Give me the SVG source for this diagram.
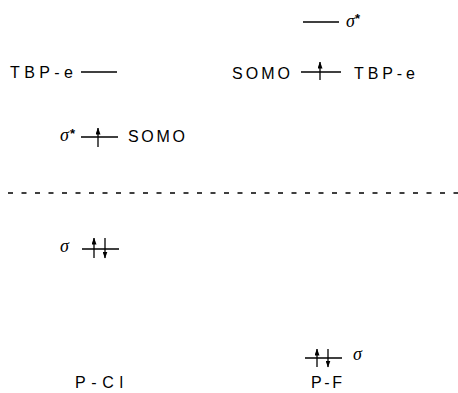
<svg xmlns="http://www.w3.org/2000/svg" width="458" height="393" viewBox="0 0 458 393">
<defs>
<marker id="ah" viewBox="0 0 7 5" refX="6.5" refY="2.5" markerWidth="7" markerHeight="5" markerUnits="userSpaceOnUse" orient="auto">
<path d="M0,0 L7,2.5 L0,5 Z" fill="#000"/>
</marker>
<style>
.lab{font-family:"Liberation Sans",Arial,sans-serif;font-size:16px;fill:#000}
.sym{font-family:"Liberation Serif","Times New Roman",serif;font-style:italic;font-size:18px;fill:#000}
.sup{font-family:"Liberation Sans",Arial,sans-serif;font-size:13px;font-weight:bold;fill:#000}
.lvl{stroke:#000;stroke-width:1.7;fill:none}
.sp{stroke:#000;stroke-width:1.3;fill:none}
.dot{stroke:#000;stroke-width:1.7;stroke-dasharray:5 8.5;fill:none}
</style>
</defs>
<g id="pcl-tbpe">
<text class="lab" x="10" y="78" textLength="63" lengthAdjust="spacing">TBP-e</text>
<line class="lvl" x1="81" y1="72" x2="117" y2="72"/>
</g>
<g id="pcl-somo">
<text class="sym" x="60" y="141">σ</text><text class="sup" x="70" y="138">*</text>
<line class="lvl" x1="81" y1="137" x2="118" y2="137"/>
<line class="sp" x1="98" y1="147" x2="98" y2="128" marker-end="url(#ah)"/>
<text class="lab" x="128" y="142" textLength="57" lengthAdjust="spacing">SOMO</text>
</g>
<g id="pf-sigmastar">
<line class="lvl" x1="303" y1="22" x2="339" y2="22"/>
<text class="sym" x="346" y="27">σ</text><text class="sup" x="355" y="23">*</text>
</g>
<g id="pf-somo">
<text class="lab" x="232" y="79" textLength="58" lengthAdjust="spacing">SOMO</text>
<line class="lvl" x1="301" y1="72" x2="341" y2="72"/>
<line class="sp" x1="320" y1="80" x2="320" y2="62" marker-end="url(#ah)"/>
<text class="lab" x="354" y="79" textLength="61" lengthAdjust="spacing">TBP-e</text>
</g>
<g id="connectors">
<line class="dot" x1="8" y1="193" x2="458" y2="193"/>
</g>
<g id="pcl-sigma">
<text class="sym" x="60" y="252">σ</text>
<line class="lvl" x1="82" y1="249" x2="119" y2="249"/>
<line class="sp" x1="94" y1="258" x2="94" y2="238" marker-end="url(#ah)"/>
<line class="sp" x1="105" y1="238" x2="105" y2="258" marker-end="url(#ah)"/>
</g>
<g id="pf-sigma">
<line class="lvl" x1="305" y1="358" x2="342" y2="358"/>
<line class="sp" x1="317" y1="367" x2="317" y2="349" marker-end="url(#ah)"/>
<line class="sp" x1="328" y1="349" x2="328" y2="367" marker-end="url(#ah)"/>
<text class="sym" x="353" y="360">σ</text>
</g>
<text class="lab" x="75" y="388" textLength="48" lengthAdjust="spacing">P-Cl</text>
<text class="lab" x="311" y="388" textLength="31" lengthAdjust="spacing">P-F</text>
</svg>
